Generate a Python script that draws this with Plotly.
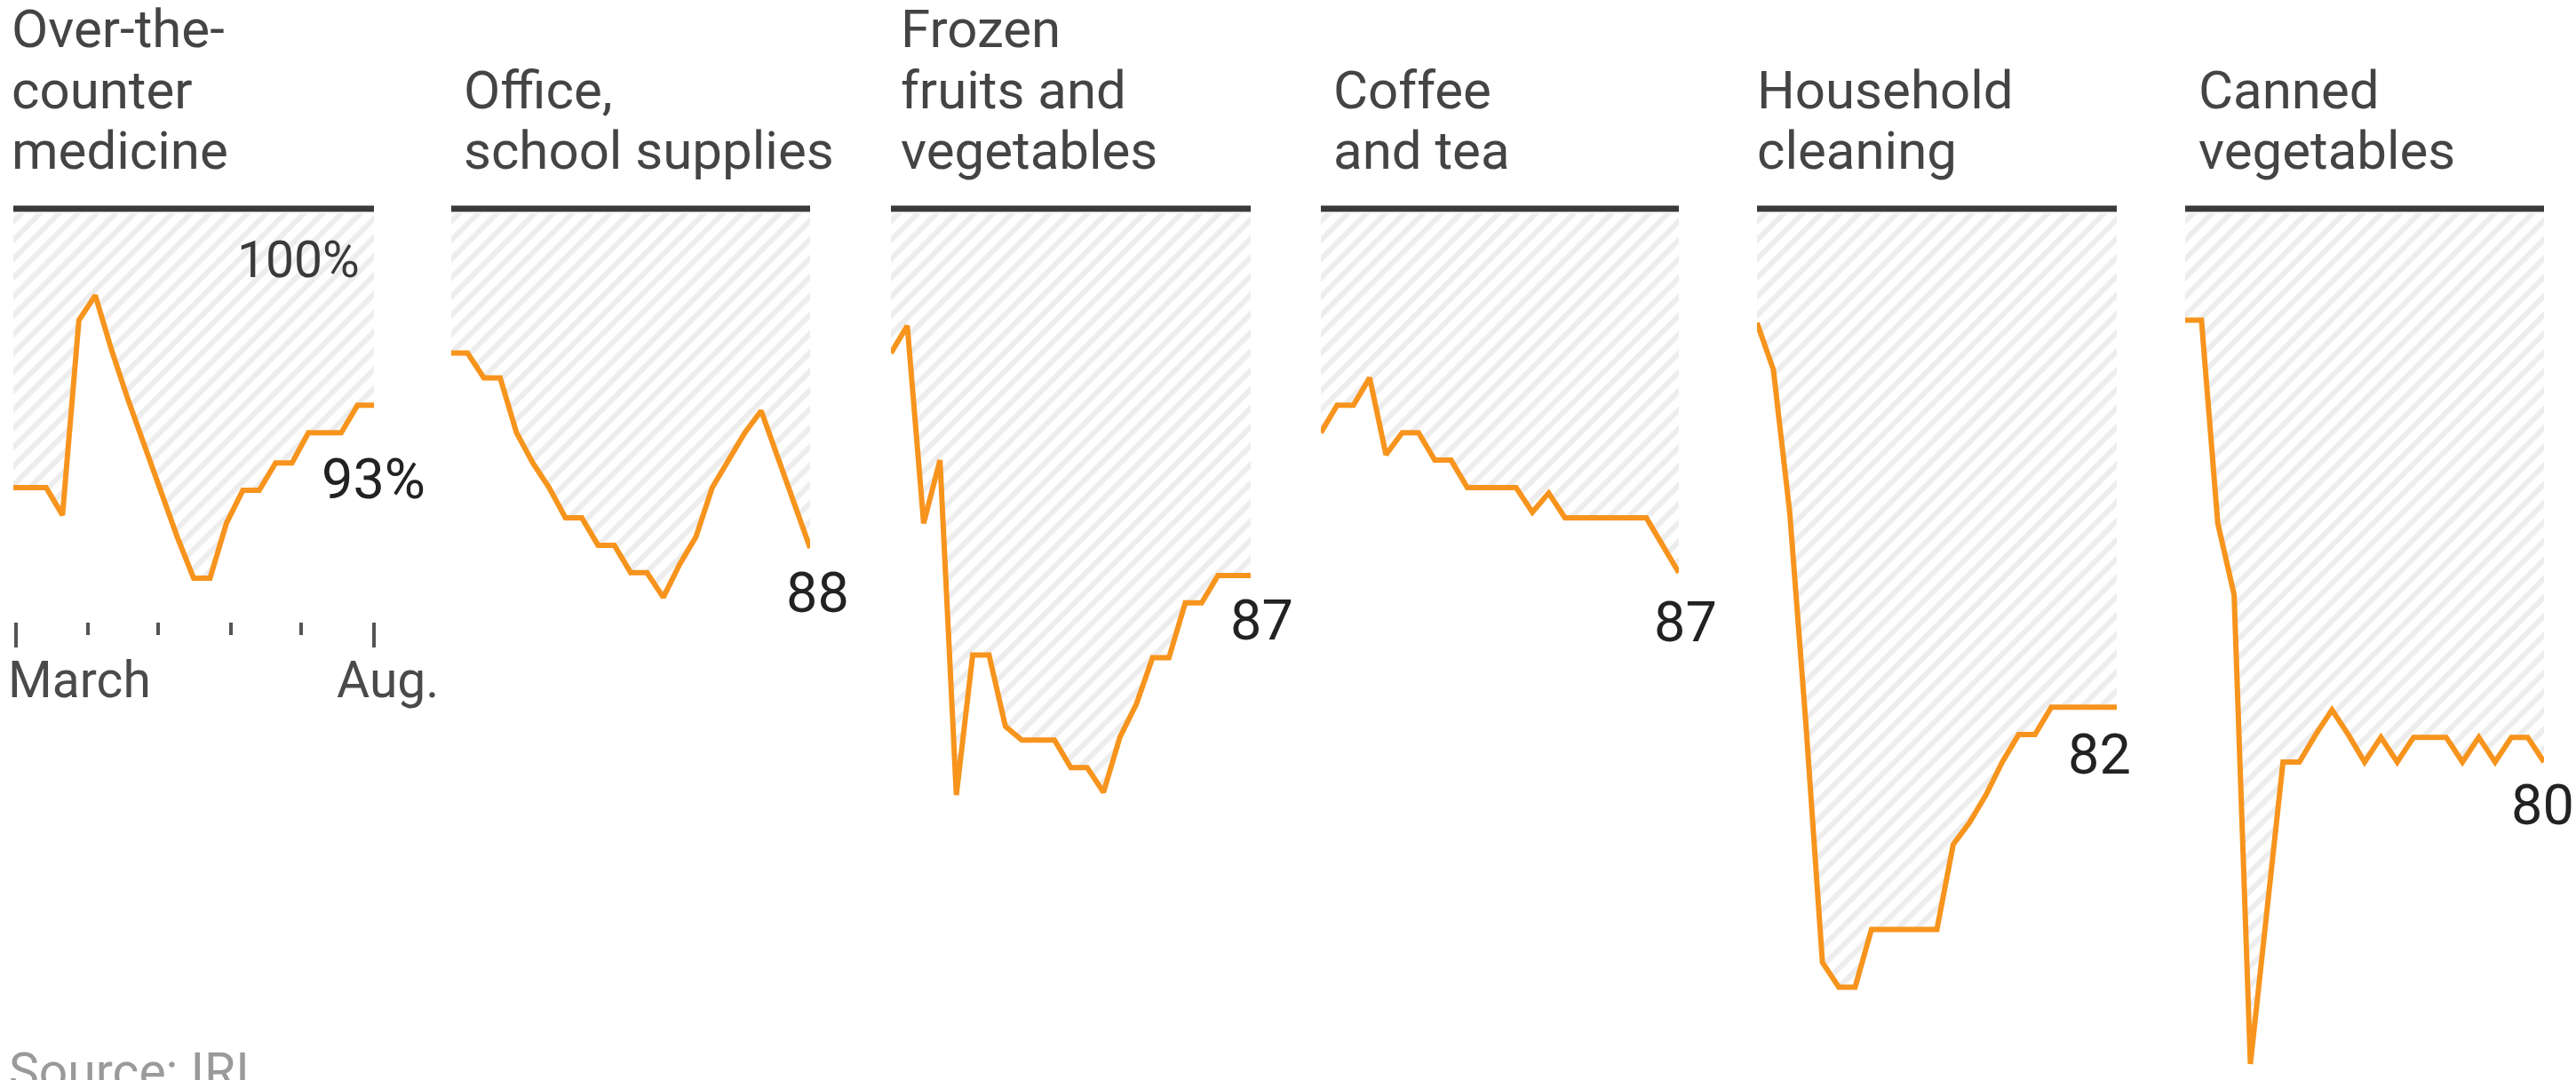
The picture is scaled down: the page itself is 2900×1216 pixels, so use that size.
import pandas as pd
import plotly.graph_objects as go

W, H = 2900, 1216

# ---------------- data ----------------
weeks = pd.date_range("2020-02-29", periods=23, freq="7D")  # weekly, March to Aug.

titles = [
    ["Over-the-", "counter", "medicine"],
    ["Office,", "school supplies"],
    ["Frozen", "fruits and", "vegetables"],
    ["Coffee", "and tea"],
    ["Household", "cleaning"],
    ["Canned", "vegetables"],
]

otc_medicine = [90.0, 90.0, 90.0, 89.0, 96.1, 97.0, 95.0, 93.2, 91.5, 89.9, 88.2, 86.7,
                86.7, 88.7, 89.9, 89.9, 90.9, 90.9, 92.0, 92.0, 92.0, 93.0, 93.0]
office_school = [94.9, 94.9, 94.0, 94.0, 92.0, 90.9, 90.0, 88.9, 88.9, 87.9, 87.9, 86.9,
                 86.9, 86.0, 87.2, 88.2, 90.0, 91.0, 92.0, 92.8, 91.1, 89.4, 87.8]
frozen_fruit_veg = [94.9, 95.9, 88.7, 91.0, 78.8, 83.9, 83.9, 81.3, 80.8, 80.8, 80.8, 79.8,
                    79.8, 78.9, 80.9, 82.1, 83.8, 83.8, 85.8, 85.8, 86.8, 86.8, 86.8]
coffee_tea = [92.0, 93.0, 93.0, 94.0, 91.2, 92.0, 92.0, 91.0, 91.0, 90.0, 90.0, 90.0,
              90.0, 89.1, 89.8, 88.9, 88.9, 88.9, 88.9, 88.9, 88.9, 87.9, 86.9]
household_cleaning = [96.0, 94.3, 89.1, 81.3, 72.7, 71.8, 71.8, 73.9, 73.9, 73.9, 73.9, 73.9,
                      77.0, 77.8, 78.8, 80.0, 81.0, 81.0, 82.0, 82.0, 82.0, 82.0, 82.0]
canned_vegetables = [96.1, 96.1, 88.7, 86.1, 69.0, 74.5, 80.0, 80.0, 81.0, 81.9, 81.0, 80.0,
                     80.9, 80.0, 80.9, 80.9, 80.9, 80.0, 80.9, 80.0, 80.9, 80.9, 80.0]

series = [otc_medicine, office_school, frozen_fruit_veg, coffee_tea,
          household_cleaning, canned_vegetables]
end_labels = ["93%", "88", "87", "87", "82", "80"]

month_ticks = ["2020-03-01", "2020-04-01", "2020-05-01", "2020-06-01", "2020-07-01", "2020-08-01"]
tick_labels = ["March", "Aug."]
top_label = "100%"
source_text = "Source: IRI"

# ---------------- styling / layout ----------------
ORANGE = "#F7941D"
DARK = "#3a3a3a"
FONT = "Roboto, 'Liberation Sans', sans-serif"

panel_px = [(15, 421), (508, 912), (1003, 1408), (1487, 1890), (1978, 2383), (2460, 2864)]
title_x_px = [11, 520, 1012, 1499, 1976, 2473]
label_shift = [(-1, -83), (8, -51), (12, -51), (7, -56), (-20, -53), (-2, -48)]

PX_PER_UNIT = 30.9
Y100_PX = 240
TOP_PX = 228


def yval(px):
    return 100 - (px - Y100_PX) / PX_PER_UNIT


def py(px):
    return 1 - px / H


fig = go.Figure()
layout = dict(
    width=W, height=H, margin=dict(l=0, r=0, t=0, b=0),
    paper_bgcolor="white", plot_bgcolor="rgba(0,0,0,0)",
    showlegend=False, font=dict(family=FONT, color="#333"),
)
shapes = []
annotations = []

for k, (vals, (x0, x1)) in enumerate(zip(series, panel_px), start=1):
    sx = "" if k == 1 else str(k)
    bottom_px = 700 if k == 1 else H
    layout["xaxis" + sx] = dict(
        domain=[x0 / W, x1 / W], type="date", range=[weeks[0], weeks[-1]],
        anchor="y" + sx, showgrid=False, zeroline=False, showline=False,
        showticklabels=False, ticks="", fixedrange=True,
    )
    layout["yaxis" + sx] = dict(
        domain=[py(bottom_px), py(TOP_PX)], range=[yval(bottom_px), yval(TOP_PX)],
        anchor="x" + sx, visible=False, fixedrange=True,
    )
    fig.add_trace(go.Scatter(
        x=weeks, y=[100] * len(weeks), mode="lines", line=dict(width=0, color="rgba(0,0,0,0)"),
        hoverinfo="skip", xaxis="x" + sx, yaxis="y" + sx,
    ))
    fig.add_trace(go.Scatter(
        x=weeks, y=vals, mode="lines", line=dict(color=ORANGE, width=6),
        fill="tonexty", fillcolor="white",
        fillpattern=dict(shape="/", fgcolor="#dcdcdc", bgcolor="white", size=15, solidity=0.42),
        xaxis="x" + sx, yaxis="y" + sx,
    ))
    # 100% reference bar at the top of each panel
    shapes.append(dict(
        type="line", xref="x" + sx + " domain", x0=0, x1=1,
        yref="y" + sx, y0=100.16, y1=100.16, line=dict(color=DARK, width=7), layer="above",
    ))
    # title lines (bottom aligned)
    lines = titles[k - 1]
    n = len(lines)
    for j, line in enumerate(lines):
        baseline = 190 - (n - 1 - j) * 68.5
        annotations.append(dict(
            text=line, xref="paper", yref="paper", x=title_x_px[k - 1] / W,
            y=py(baseline - 0.34 * 60), xanchor="left", yanchor="middle", showarrow=False,
            font=dict(size=60, color="#444444", family=FONT),
        ))
    # end value label
    dx, dy = label_shift[k - 1]
    annotations.append(dict(
        text=end_labels[k - 1], xref="x" + sx, yref="y" + sx, x=weeks[-1], y=vals[-1],
        xanchor="center", yanchor="middle", xshift=dx, yshift=dy, showarrow=False,
        font=dict(size=63, color="#222222", family=FONT),
    ))

# first panel: month ticks
layout["xaxis"].update(
    ticks="outside", tickvals=[month_ticks[0], month_ticks[-1]], ticklen=28, tickwidth=4,
    tickcolor="#555555",
    minor=dict(ticks="outside", tickvals=month_ticks[1:-1], ticklen=14, tickwidth=4,
               tickcolor="#555555", showgrid=False),
)
annotations.append(dict(
    text=tick_labels[0], xref="x", yref="paper", x=month_ticks[0], y=py(765),
    xanchor="left", yanchor="middle", xshift=-11, showarrow=False,
    font=dict(size=57, color="#4a4a4a", family=FONT),
))
annotations.append(dict(
    text=tick_labels[1], xref="x", yref="paper", x=month_ticks[-1], y=py(765),
    xanchor="center", yanchor="middle", xshift=15, showarrow=False,
    font=dict(size=57, color="#4a4a4a", family=FONT),
))
annotations.append(dict(
    text=top_label, xref="x", yref="y", x=weeks[-1], y=100,
    xanchor="right", yanchor="middle", xshift=-14, yshift=-52, showarrow=False,
    font=dict(size=57, color="#3a3a3a", family=FONT),
))
annotations.append(dict(
    text=source_text, xref="paper", yref="paper", x=8 / W, y=py(1171),
    xanchor="left", yanchor="top", showarrow=False,
    font=dict(size=57, color="#9a9a9a", family=FONT),
))

layout["shapes"] = shapes
layout["annotations"] = annotations
fig.update_layout(**layout)

fig.write_html("out.html", config={"displayModeBar": False},
               post_script="document.body.style.margin='0';")
